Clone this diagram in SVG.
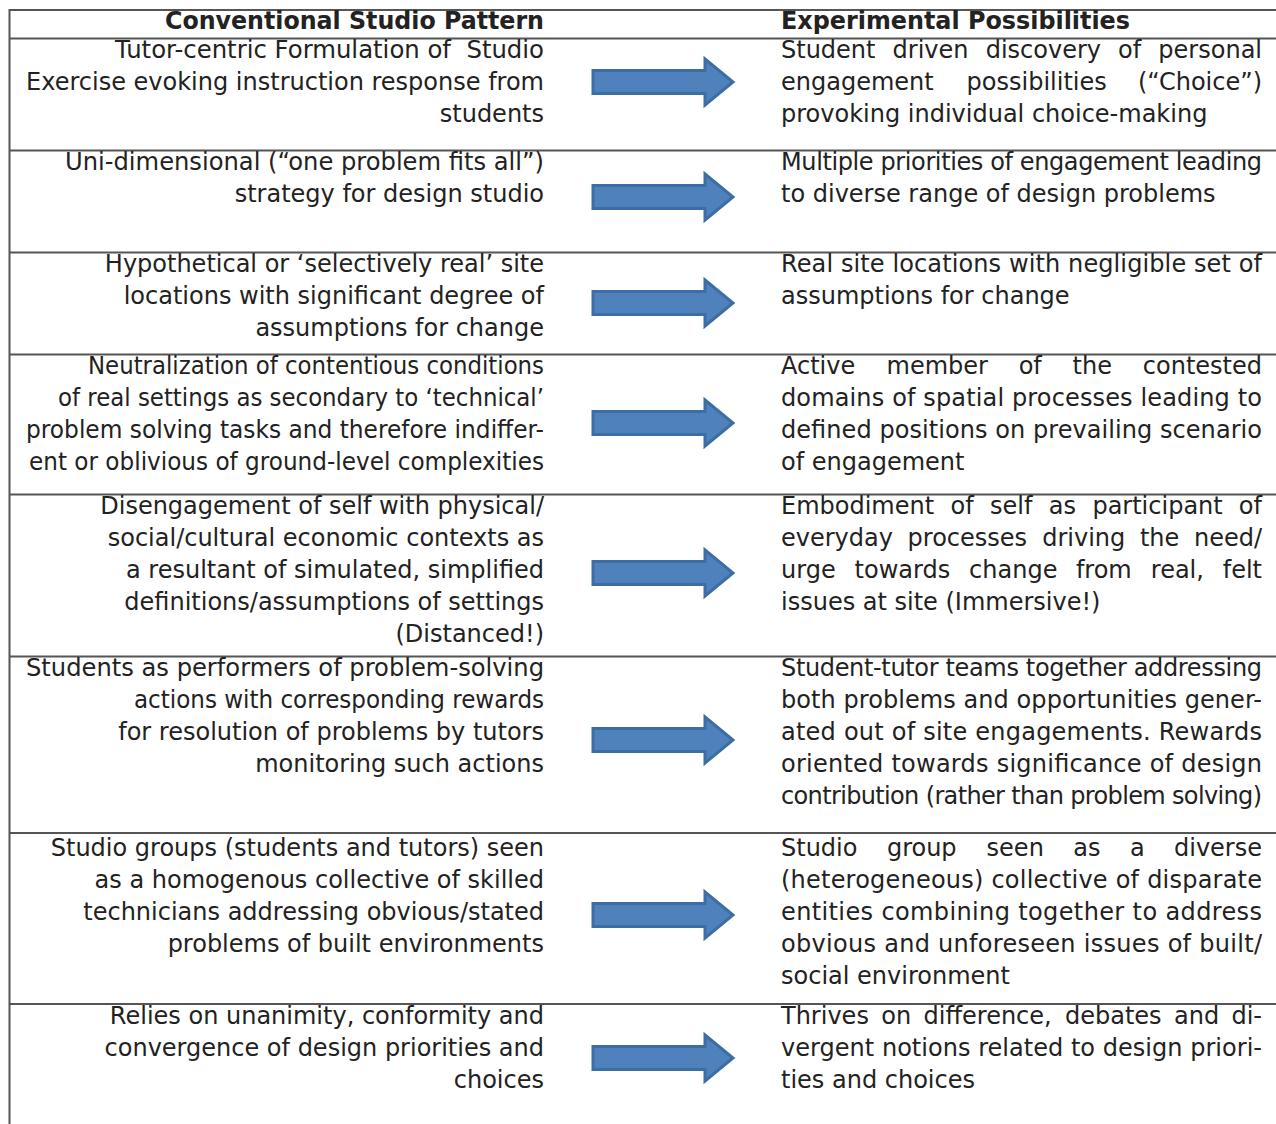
<svg xmlns="http://www.w3.org/2000/svg" width="1276" height="1124" viewBox="0 0 1276 1124">
<defs>
<style>
.t{font-family:"DejaVu Sans",Verdana,sans-serif;font-size:24px;fill:#222}
.l{text-anchor:end}
.h{font-weight:bold}
.g{stroke:#555;stroke-width:2;fill:none}
.arr{fill:#4f81bd;stroke:#3d6ea3;stroke-width:3;stroke-linejoin:miter}
</style>
<path id="ar" d="M593,-11.5 H705 V-23 L733,0 L705,23 V11.5 H593 Z"/>
</defs>
<rect width="1276" height="1124" fill="#fff"/>
<g id="grid">
<path class="g" d="M9,10 H1276 M9,38.5 H1276 M9,150.5 H1276 M9,252.5 H1276 M9,354.5 H1276 M9,494.5 H1276 M9,656.5 H1276 M9,833 H1276 M9,1004 H1276 M9.5,9 V1124"/>
</g>
<g id="header">
<text class="t h l" x="544" y="29" textLength="379" lengthAdjust="spacingAndGlyphs">Conventional Studio Pattern</text>
<text class="t h" x="781" y="29" textLength="349" lengthAdjust="spacingAndGlyphs">Experimental Possibilities</text>
</g>
<g id="row1">
<text class="t l" x="544" y="58" xml:space="preserve" textLength="429" lengthAdjust="spacingAndGlyphs">Tutor-centric Formulation of  Studio</text>
<text class="t l" x="544" y="90">Exercise evoking instruction response from</text>
<text class="t l" x="544" y="122">students</text>
<text class="t" y="58"><tspan x="781">Student</tspan><tspan x="892.6">driven</tspan><tspan x="985.7">discovery</tspan><tspan x="1118.1">of</tspan></text>
<text class="t l" x="1262" y="58">personal</text>
<text class="t" y="90"><tspan x="781">engagement</tspan><tspan x="966.6">possibilities</tspan></text>
<text class="t l" x="1262" y="90">(“Choice”)</text>
<text class="t" x="781" y="122">provoking individual choice-making</text>
</g>
<g id="row2">
<text class="t l" x="544" y="170" textLength="479" lengthAdjust="spacingAndGlyphs">Uni-dimensional (“one problem fits all”)</text>
<text class="t l" x="544" y="202">strategy for design studio</text>
<text class="t" x="781" y="170" textLength="481" lengthAdjust="spacing">Multiple priorities of engagement leading</text>
<text class="t" x="781" y="202">to diverse range of design problems</text>
</g>
<g id="row3">
<text class="t l" x="544" y="272">Hypothetical or ‘selectively real’ site</text>
<text class="t l" x="544" y="304">locations with significant degree of</text>
<text class="t l" x="544" y="336">assumptions for change</text>
<text class="t" x="781" y="272" textLength="481" lengthAdjust="spacing">Real site locations with negligible set of</text>
<text class="t" x="781" y="304">assumptions for change</text>
</g>
<g id="row4">
<text class="t l" x="544" y="374" textLength="456" lengthAdjust="spacingAndGlyphs">Neutralization of contentious conditions</text>
<text class="t l" x="544" y="406" textLength="486" lengthAdjust="spacingAndGlyphs">of real settings as secondary to ‘technical’</text>
<text class="t l" x="544" y="438" textLength="518" lengthAdjust="spacingAndGlyphs">problem solving tasks and therefore indiffer-</text>
<text class="t l" x="544" y="470" textLength="515" lengthAdjust="spacingAndGlyphs">ent or oblivious of ground-level complexities</text>
<text class="t" y="374"><tspan x="781">Active</tspan><tspan x="886.5">member</tspan><tspan x="1018.7">of</tspan><tspan x="1072.6">the</tspan></text>
<text class="t l" x="1262" y="374">contested</text>
<text class="t" x="781" y="406" textLength="481" lengthAdjust="spacing">domains of spatial processes leading to</text>
<text class="t" x="781" y="438" textLength="481" lengthAdjust="spacing">defined positions on prevailing scenario</text>
<text class="t" x="781" y="470">of engagement</text>
</g>
<g id="row5">
<text class="t l" x="544" y="514">Disengagement of self with physical/</text>
<text class="t l" x="544" y="546">social/cultural economic contexts as</text>
<text class="t l" x="544" y="578">a resultant of simulated, simplified</text>
<text class="t l" x="544" y="610">definitions/assumptions of settings</text>
<text class="t l" x="544" y="642">(Distanced!)</text>
<text class="t" y="514"><tspan x="781">Embodiment</tspan><tspan x="950.5">of</tspan><tspan x="990">self</tspan><tspan x="1048.8">as</tspan><tspan x="1092.4">participant</tspan></text>
<text class="t l" x="1262" y="514">of</text>
<text class="t" y="546"><tspan x="781">everyday</tspan><tspan x="907.6">processes</tspan><tspan x="1042.2">driving</tspan><tspan x="1139.9">the</tspan></text>
<text class="t l" x="1262" y="546">need/</text>
<text class="t" y="578"><tspan x="781">urge</tspan><tspan x="854.6">towards</tspan><tspan x="969.1">change</tspan><tspan x="1075.9">from</tspan><tspan x="1150.8">real,</tspan></text>
<text class="t l" x="1262" y="578">felt</text>
<text class="t" x="781" y="610">issues at site (Immersive!)</text>
</g>
<g id="row6">
<text class="t l" x="544" y="676" textLength="518" lengthAdjust="spacingAndGlyphs">Students as performers of problem-solving</text>
<text class="t l" x="544" y="708" textLength="410" lengthAdjust="spacingAndGlyphs">actions with corresponding rewards</text>
<text class="t l" x="544" y="740">for resolution of problems by tutors</text>
<text class="t l" x="544" y="772">monitoring such actions</text>
<text class="t" x="781" y="676" textLength="481" lengthAdjust="spacing">Student-tutor teams together addressing</text>
<text class="t" x="781" y="708" textLength="481" lengthAdjust="spacing">both problems and opportunities gener-</text>
<text class="t" x="781" y="740" textLength="481" lengthAdjust="spacing">ated out of site engagements. Rewards</text>
<text class="t" x="781" y="772" textLength="481" lengthAdjust="spacing">oriented towards significance of design</text>
<text class="t" x="781" y="804" textLength="481" lengthAdjust="spacing">contribution (rather than problem solving)</text>
</g>
<g id="row7">
<text class="t l" x="544" y="856">Studio groups (students and tutors) seen</text>
<text class="t l" x="544" y="888">as a homogenous collective of skilled</text>
<text class="t l" x="544" y="920">technicians addressing obvious/stated</text>
<text class="t l" x="544" y="952">problems of built environments</text>
<text class="t" y="856"><tspan x="781">Studio</tspan><tspan x="886.9">group</tspan><tspan x="986.6">seen</tspan><tspan x="1073.2">as</tspan><tspan x="1129.9">a</tspan></text>
<text class="t l" x="1262" y="856">diverse</text>
<text class="t" x="781" y="888" textLength="481" lengthAdjust="spacing">(heterogeneous) collective of disparate</text>
<text class="t" x="781" y="920" textLength="481" lengthAdjust="spacing">entities combining together to address</text>
<text class="t" x="781" y="952" textLength="481" lengthAdjust="spacing">obvious and unforeseen issues of built/</text>
<text class="t" x="781" y="984">social environment</text>
</g>
<g id="row8">
<text class="t l" x="544" y="1024">Relies on unanimity, conformity and</text>
<text class="t l" x="544" y="1056">convergence of design priorities and</text>
<text class="t l" x="544" y="1088">choices</text>
<text class="t" y="1024"><tspan x="781">Thrives</tspan><tspan x="881.3">on</tspan><tspan x="923.6">difference,</tspan><tspan x="1065">debates</tspan><tspan x="1174">and</tspan></text>
<text class="t l" x="1262" y="1024">di-</text>
<text class="t" x="781" y="1056" textLength="481" lengthAdjust="spacing">vergent notions related to design priori-</text>
<text class="t" x="781" y="1088">ties and choices</text>
</g>
<g id="connectors">
<use href="#ar" class="arr" y="82"/>
<use href="#ar" class="arr" y="197"/>
<use href="#ar" class="arr" y="303"/>
<use href="#ar" class="arr" y="423"/>
<use href="#ar" class="arr" y="573"/>
<use href="#ar" class="arr" y="740"/>
<use href="#ar" class="arr" y="915"/>
<use href="#ar" class="arr" y="1058"/>
</g>
</svg>
